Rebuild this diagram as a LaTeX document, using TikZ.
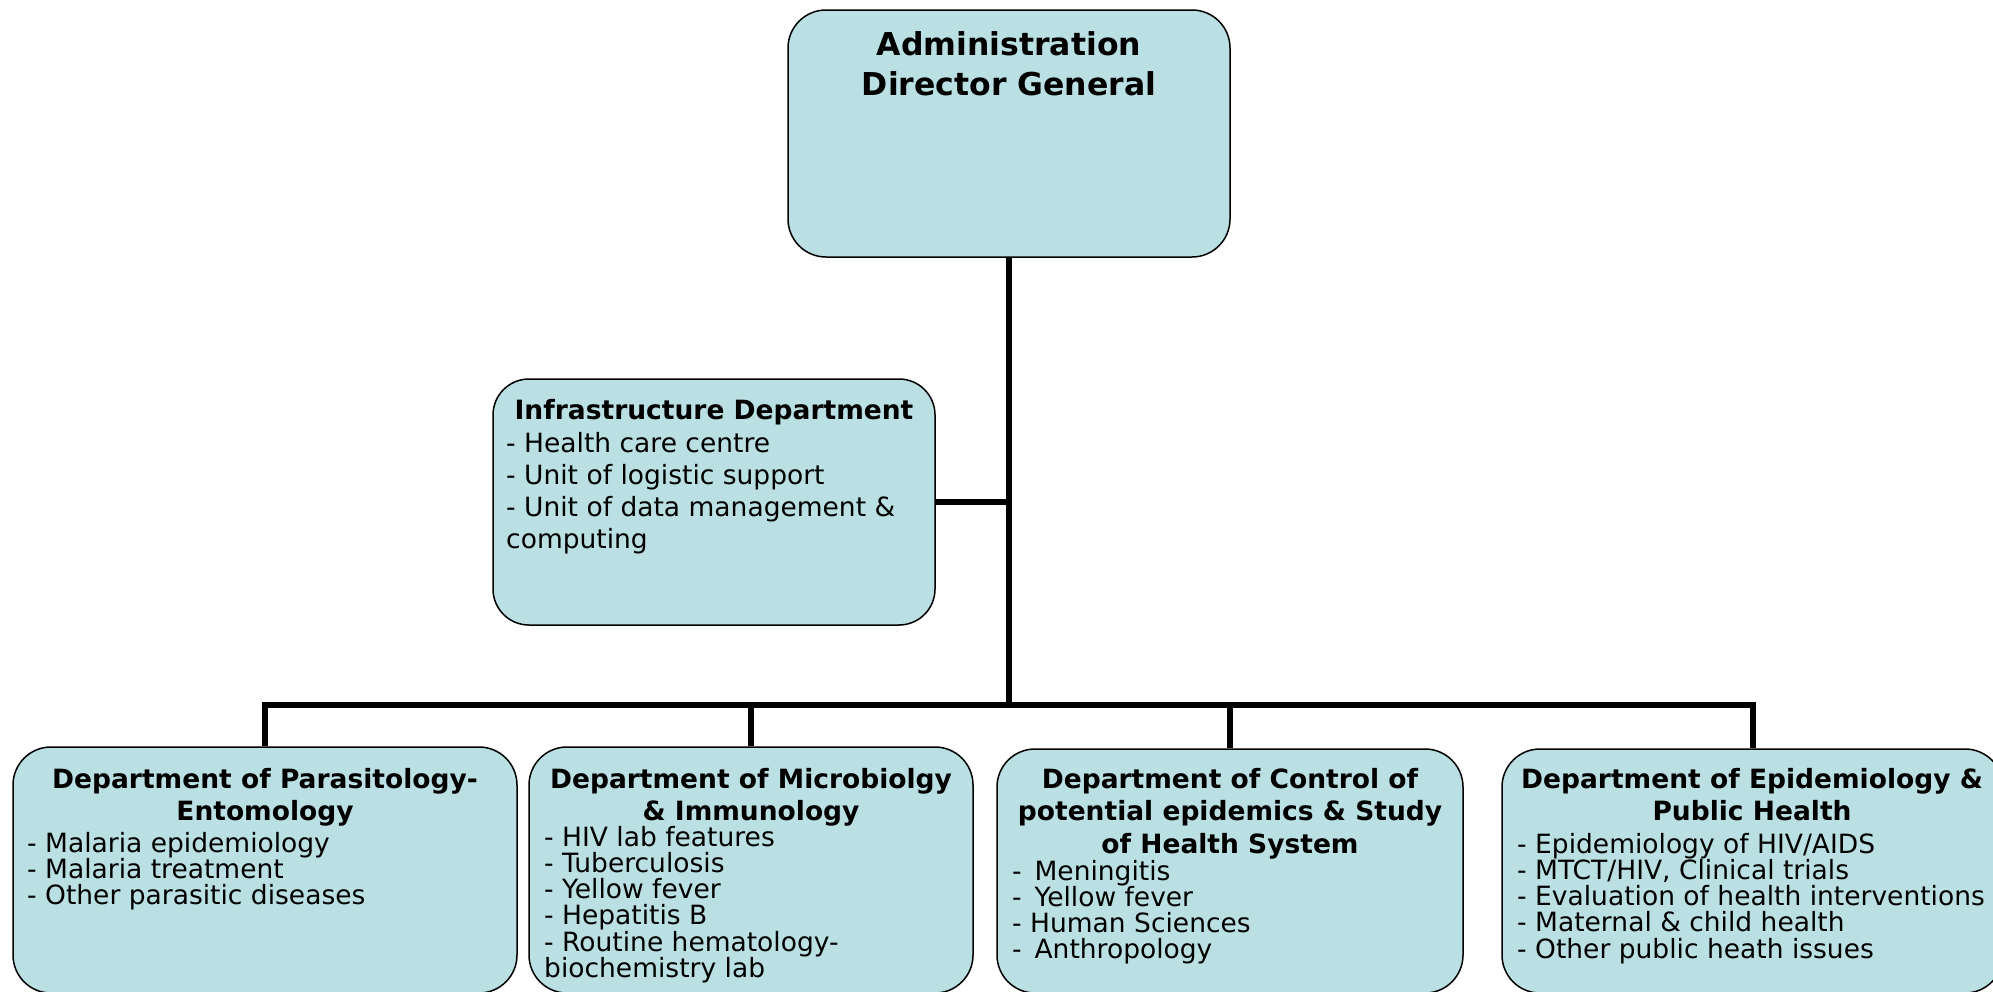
\documentclass[tikz,border=0pt]{standalone}
\usepackage{fontspec}
\setmainfont{DejaVu Sans}
\definecolor{boxfill}{HTML}{BAE0E3}
\begin{document}
\begin{tikzpicture}[x=1pt,y=-1pt,
  orgbox/.style={draw=black, line width=1.5pt, fill=boxfill, rounded corners=38pt, inner sep=0pt},
  conn/.style={line width=6pt},
  ttl/.style={anchor=north, inner sep=0pt, align=center, font=\fontsize{26.5}{32.5}\selectfont\bfseries},
  lst/.style={anchor=north west, inner sep=0pt, align=left, font=\fontsize{26.5}{26.2}\selectfont},
]
\clip (0,0) rectangle (1993,991);

% top box
\node[orgbox, minimum width=442pt, minimum height=247pt] (top) at (1009,133.5) {};
\node[ttl, font=\fontsize{31.5}{40}\selectfont\bfseries] (toptxt) at (1009,30) {\rule{0pt}{25pt}Administration\\Director General};

% infrastructure
\node[orgbox, rounded corners=36pt, minimum width=442pt, minimum height=246pt] (infra) at (714,502) {};
\node[ttl] (infratitle) at (714,398) {\rule{0pt}{21pt}Infrastructure Department};
\node[lst, font=\fontsize{26.5}{32}\selectfont] (infralist) at (506,431) {\rule{0pt}{21pt}- Health care centre\\- Unit of logistic support\\- Unit of data management \&\\computing};

% departments
\node[orgbox, minimum width=504pt, minimum height=246pt] (d1) at (265,870) {};
\node[orgbox, minimum width=444pt, minimum height=246pt] (d2) at (751,870) {};
\node[orgbox, minimum width=466pt, minimum height=244pt] (d3) at (1230,871) {};
\node[orgbox, minimum width=501pt, minimum height=244pt] (d4) at (1752.5,871) {};

\node[ttl] (d1t) at (265,767) {\rule{0pt}{21pt}Department of Parasitology-\\Entomology};
\node[lst] (d1l) at (27,831) {\rule{0pt}{21pt}- Malaria epidemiology\\- Malaria treatment\\- Other parasitic diseases};

\node[ttl] (d2t) at (751,767) {\rule{0pt}{21pt}Department of Microbiolgy\\\& Immunology};
\node[lst] (d2l) at (544,825) {\rule{0pt}{21pt}- HIV lab features\\- Tuberculosis\\- Yellow fever\\- Hepatitis B\\- Routine hematology-\\biochemistry lab};

\node[ttl] (d3t) at (1230,767) {\rule{0pt}{21pt}Department of Control of\\potential epidemics \& Study\\of Health System};
\node[lst] (d3l) at (1012,859) {\rule{0pt}{21pt}- \,Meningitis\\- \,Yellow fever\\- Human Sciences\\- \,Anthropology};

\node[ttl] (d4t) at (1752,767) {\rule{0pt}{21pt}Department of Epidemiology \&\\Public Health};
\node[lst] (d4l) at (1517,832) {\rule{0pt}{21pt}- Epidemiology of HIV/AIDS\\- MTCT/HIV, Clinical trials\\- Evaluation of health interventions\\- Maternal \& child health\\- Other public heath issues};

% connectors
\coordinate (hub) at (1009,705);
\coordinate (infraJ) at (1009,502);
\draw[conn] (top.south) -- (hub);
\draw[conn] (infra.east) -- (infraJ);
\draw[conn] (d1.north) |- (hub) -| (d4.north);
\draw[conn] (d2.north) -- (d2.north |- hub);
\draw[conn] (d3.north) -- (d3.north |- hub);
\end{tikzpicture}
\end{document}
